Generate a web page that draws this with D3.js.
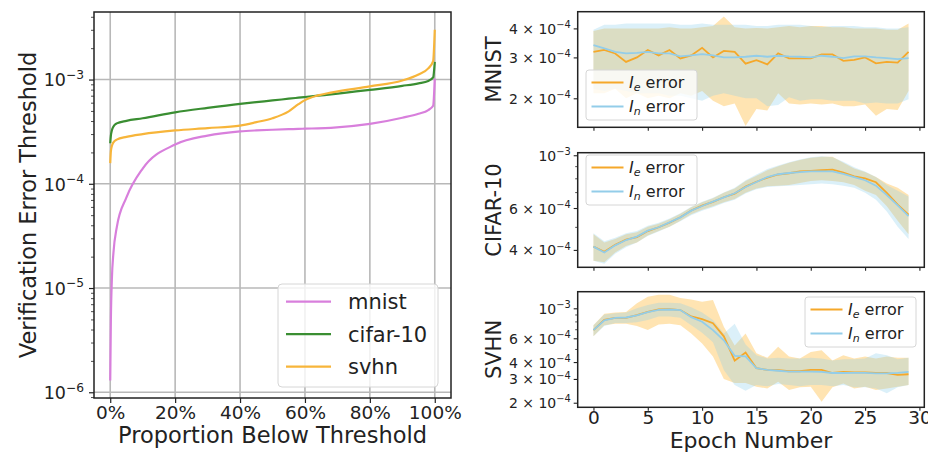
<!DOCTYPE html>
<html>
<head>
<meta charset="utf-8">
<script src="https://cdn.jsdelivr.net/npm/d3@7"></script>
<style>
  body { margin: 0; background: #fff; }
  svg text { font-family: "DejaVu Sans", sans-serif; fill: #222; }
</style>
</head>
<body>
<script>
// ---- left chart: threshold curves ----
const proportion = [0, 0.002, 0.005, 0.01, 0.02, 0.05, 0.1, 0.2, 0.3, 0.4, 0.45, 0.5,
                    0.55, 0.58, 0.6, 0.64, 0.68, 0.8, 0.9, 0.95, 0.98, 0.995, 1.0];
const mnist   = [1.3e-6, 5e-6, 1.2e-5, 2.2e-5, 3.8e-5, 7.4e-5, 1.4e-4, 2.38e-4, 2.9e-4, 3.18e-4, 3.25e-4, 3.3e-4,
                 3.34e-4, 3.36e-4, 3.38e-4, 3.4e-4, 3.44e-4, 3.75e-4, 4.3e-4, 4.7e-4, 5.1e-4, 5.6e-4, 1.02e-3];
const cifar10 = [2.45e-4, 2.9e-4, 3.25e-4, 3.55e-4, 3.8e-4, 4.02e-4, 4.25e-4, 4.85e-4, 5.35e-4, 5.85e-4, 6.08e-4, 6.3e-4,
                 6.55e-4, 6.7e-4, 6.8e-4, 7.0e-4, 7.2e-4, 7.95e-4, 8.7e-4, 9.2e-4, 9.7e-4, 1.05e-3, 1.48e-3];
const svhn    = [1.58e-4, 2.05e-4, 2.3e-4, 2.5e-4, 2.65e-4, 2.82e-4, 3.0e-4, 3.25e-4, 3.42e-4, 3.62e-4, 3.9e-4, 4.25e-4,
                 4.95e-4, 5.8e-4, 6.35e-4, 7.05e-4, 7.5e-4, 8.6e-4, 9.8e-4, 1.12e-3, 1.28e-3, 1.5e-3, 3.0e-3];
const leftNames = ['mnist', 'cifar-10', 'svhn'];
const leftTicksX = [0, 0.2, 0.4, 0.6, 0.8, 1.0];
const leftTicksY = [1e-6, 1e-5, 1e-4, 1e-3];

// ---- right charts: error per epoch ----
const epochs = [0, 1, 2, 3, 4, 5, 6, 7, 8, 9, 10, 11, 12, 13, 14, 15, 16, 17, 18, 19, 20, 21, 22, 23, 24, 25, 26, 27, 28, 29];
const epochTicks = [0, 5, 10, 15, 20, 25, 30];

const mnistIe   = [3.17, 3.23, 3.12, 2.87, 3.0, 3.23, 3.06, 3.23, 2.97, 3.06, 3.3, 3.0, 3.2, 3.17, 2.82,
                   2.92, 2.8, 3.12, 2.97, 2.97, 2.97, 3.09, 3.09, 2.9, 2.93, 3.0, 2.83, 2.87, 2.85, 3.17].map(v => v * 1e-4);
const mnistIeHi = [3.9, 4.0, 4.0, 4.0, 4.0, 4.0, 4.0, 4.05, 4.0, 4.0, 4.05, 4.1, 4.5, 4.05, 4.0,
                   4.02, 4.0, 4.05, 4.1, 4.05, 4.1, 4.1, 4.05, 4.05, 4.0, 4.0, 4.0, 3.95, 3.95, 4.2].map(v => v * 1e-4);
const mnistIeLo = [2.1, 2.1, 2.2, 2.0, 2.1, 2.0, 2.05, 2.0, 2.1, 2.05, 2.15, 1.95, 1.85, 1.9, 1.52,
                   1.8, 1.77, 2.1, 1.9, 1.88, 1.9, 1.88, 1.9, 1.85, 1.85, 1.88, 1.68, 1.8, 1.78, 2.15].map(v => v * 1e-4);
const mnistIn   = [3.39, 3.28, 3.17, 3.12, 3.14, 3.17, 3.12, 3.12, 3.03, 3.06, 3.1, 3.06, 3.0, 3.0, 3.02,
                   3.05, 3.02, 3.05, 3.03, 3.02, 3.0, 3.05, 3.02, 2.98, 3.03, 3.03, 3.0, 2.98, 2.95, 2.98].map(v => v * 1e-4);
const mnistInHi = [3.95, 4.15, 4.15, 4.2, 4.2, 4.2, 4.2, 4.2, 4.15, 4.15, 4.2, 4.15, 4.15, 4.15, 4.15,
                   4.1, 4.1, 4.15, 4.15, 4.15, 4.1, 4.05, 4.1, 4.1, 4.1, 4.05, 4.05, 4.0, 4.0, 4.05].map(v => v * 1e-4);
const mnistInLo = [2.2, 2.15, 2.2, 2.15, 2.1, 2.1, 2.1, 2.05, 2.05, 2.0, 1.95, 2.05, 2.1, 2.05, 2.0,
                   2.0, 1.85, 1.87, 2.02, 1.95, 1.98, 1.98, 1.95, 1.95, 1.95, 1.9, 1.92, 1.9, 1.9, 1.98].map(v => v * 1e-4);

const cifarIe   = [4.13, 3.93, 4.2, 4.42, 4.53, 4.8, 4.98, 5.2, 5.49, 5.86, 6.14, 6.37, 6.66, 6.9, 7.38,
                   7.74, 8.05, 8.3, 8.4, 8.55, 8.6, 8.65, 8.7, 8.45, 8.15, 8.0, 7.7, 6.95, 6.2, 5.62].map(v => v * 1e-4);
const cifarIeHi = [4.65, 4.3, 4.45, 4.65, 4.75, 5.0, 5.15, 5.38, 5.68, 6.05, 6.35, 6.6, 6.95, 7.25, 7.8,
                   8.2, 8.65, 9.0, 9.3, 9.55, 9.75, 9.85, 9.85, 9.3, 8.8, 8.5, 8.1, 7.6, 7.3, 6.8].map(v => v * 1e-4);
const cifarIeLo = [3.6, 3.55, 3.9, 4.15, 4.3, 4.6, 4.8, 5.0, 5.3, 5.65, 5.9, 6.1, 6.35, 6.55, 6.95,
                   7.25, 7.4, 7.45, 7.5, 7.65, 7.8, 7.85, 7.8, 7.7, 7.5, 7.1, 6.8, 6.1, 5.3, 4.66].map(v => v * 1e-4);
const cifarIn   = [4.13, 3.9, 4.18, 4.4, 4.55, 4.82, 4.98, 5.22, 5.48, 5.85, 6.12, 6.38, 6.65, 6.92, 7.35,
                   7.72, 8.1, 8.32, 8.42, 8.5, 8.55, 8.55, 8.55, 8.35, 8.1, 7.85, 7.45, 6.8, 6.15, 5.55].map(v => v * 1e-4);
const cifarInHi = [4.7, 4.35, 4.5, 4.7, 4.8, 5.05, 5.2, 5.42, 5.7, 6.08, 6.38, 6.62, 6.98, 7.3, 7.85,
                   8.3, 8.75, 9.05, 9.35, 9.6, 9.8, 9.9, 9.8, 9.4, 8.9, 8.55, 8.1, 7.5, 7.1, 6.7].map(v => v * 1e-4);
const cifarInLo = [3.6, 3.5, 3.85, 4.1, 4.3, 4.58, 4.78, 5.0, 5.28, 5.6, 5.85, 6.05, 6.3, 6.5, 6.9,
                   7.2, 7.35, 7.4, 7.45, 7.5, 7.55, 7.6, 7.55, 7.45, 7.3, 6.95, 6.5, 5.8, 5.0, 4.45].map(v => v * 1e-4);

const svhnIe    = [6.9, 8.2, 8.5, 8.5, 8.9, 9.4, 9.8, 9.85, 9.7, 8.7, 8.3, 7.75, 6.2, 4.1, 4.7,
                   3.6, 3.5, 3.48, 3.42, 3.42, 3.5, 3.5, 3.32, 3.38, 3.35, 3.35, 3.32, 3.32, 3.22, 3.25].map(v => v * 1e-4);
const svhnIeHi  = [7.5, 9.1, 9.3, 9.4, 10.9, 12.2, 12.6, 12.6, 11.9, 11.6, 11.2, 11.5, 7.3, 5.3, 6.5,
                   4.65, 4.3, 5.2, 4.4, 4.25, 4.75, 4.9, 4.1, 4.5, 4.25, 4.4, 4.25, 4.4, 4.3, 4.3].map(v => v * 1e-4);
const svhnIeLo  = [6.2, 7.5, 7.7, 7.7, 7.4, 6.9, 7.6, 7.7, 7.5, 6.5, 5.5, 4.4, 3.0, 2.8, 2.8,
                   2.63, 2.55, 2.86, 2.48, 2.6, 2.63, 2.03, 2.6, 2.78, 2.55, 2.63, 2.48, 2.55, 2.63, 2.7].map(v => v * 1e-4);
const svhnIn    = [6.9, 8.15, 8.5, 8.55, 8.85, 9.35, 9.75, 9.8, 9.7, 8.6, 7.95, 6.9, 5.8, 4.45, 4.4,
                   3.6, 3.5, 3.45, 3.4, 3.4, 3.4, 3.38, 3.32, 3.32, 3.33, 3.33, 3.3, 3.3, 3.33, 3.38].map(v => v * 1e-4);
const svhnInHi  = [7.5, 9.0, 9.2, 9.3, 10.0, 10.6, 11.0, 11.0, 10.9, 10.2, 9.3, 8.2, 6.5, 7.7, 5.4,
                   4.5, 4.25, 4.3, 4.25, 4.25, 4.3, 4.25, 4.1, 4.2, 4.2, 4.25, 4.65, 4.5, 4.2, 4.3].map(v => v * 1e-4);
const svhnInLo  = [6.2, 7.4, 7.8, 7.8, 7.9, 8.2, 8.7, 8.7, 8.5, 7.5, 6.6, 5.6, 3.5, 2.7, 2.45,
                   2.7, 2.65, 2.75, 2.7, 2.65, 2.7, 2.7, 2.65, 2.7, 2.6, 2.6, 2.55, 2.35, 2.6, 2.7].map(v => v * 1e-4);

const panelNames = ['MNIST', 'CIFAR-10', 'SVHN'];
const mnistTicks = [2e-4, 3e-4, 4e-4];
const cifarTicks = [4e-4, 6e-4, 1e-3];
const svhnTicks  = [2e-4, 3e-4, 4e-4, 6e-4, 1e-3];

const width = 928;
const height = 452;
const MINUS = '\u2212';

const svg = d3.select('body')
    .append('svg')
    .attr('width', width)
    .attr('height', height);

// "10^-n" or "m × 10^-n" as text with a raised exponent
function powText(sel, v, size) {
    const e = Math.floor(Math.log10(v) + 1e-9);
    const m = Math.round(v / Math.pow(10, e));
    sel.text(null);
    sel.append('tspan').text(m === 1 ? '10' : m + ' \u00d7 10');
    sel.append('tspan')
        .attr('dy', -size * 0.42)
        .attr('font-size', size * 0.7)
        .text(MINUS + (-e));
}

function minorTicks(lo, hi, skip) {
    const out = [];
    for (let e = -7; e <= -2; e++) {
        for (let m = 1; m <= 9; m++) {
            const v = m * Math.pow(10, e);
            if (v >= lo && v <= hi && !skip.some(s => Math.abs(s - v) < v * 1e-6)) out.push(v);
        }
    }
    return out;
}

function drawLeft() {
    const x0 = 94, x1 = 451, y0 = 12, y1 = 398;
    const x = d3.scaleLinear().domain([-0.05, 1.05]).range([x0, x1]);
    const y = d3.scaleLog().domain([Math.pow(10, -6.055), Math.pow(10, -2.352)]).range([y1, y0]);
    const g = svg.append('g');

    // grid
    g.selectAll('.gx').data(leftTicksX).join('line')
        .attr('x1', d => x(d)).attr('x2', d => x(d))
        .attr('y1', y0).attr('y2', y1)
        .style('stroke', '#b8b8b8').style('stroke-width', 1.6);
    g.selectAll('.gy').data(leftTicksY).join('line')
        .attr('x1', x0).attr('x2', x1)
        .attr('y1', d => y(d)).attr('y2', d => y(d))
        .style('stroke', '#b8b8b8').style('stroke-width', 1.6);

    // curves
    const line = d3.line()
        .x((d, i) => x(proportion[i]))
        .y(d => y(d))
        .curve(d3.curveMonotoneX);
    const series = [mnist, cifar10, svhn];
    const colors = ['#d87fdc', '#3a8e32', '#f7b53a'];
    series.forEach((s, k) => {
        g.append('path')
            .attr('d', line(s))
            .style('fill', 'none')
            .style('stroke', colors[k])
            .style('stroke-width', 2.2);
    });

    // frame
    g.append('rect')
        .attr('x', x0).attr('y', y0).attr('width', x1 - x0).attr('height', y1 - y0)
        .style('fill', 'none').style('stroke', '#222').style('stroke-width', 1.5);

    // y axis
    const ay = g.append('g')
        .attr('transform', `translate(${x0},0)`)
        .call(d3.axisLeft(y).tickValues(leftTicksY).tickSize(5).tickPadding(5).tickFormat(() => ''));
    ay.select('.domain').remove();
    ay.selectAll('.tick line').style('stroke', '#222').style('stroke-width', 1.2);
    ay.selectAll('.tick text')
        .attr('font-size', 17.5).attr('font-family', null).attr('dy', '0.36em')
        .each(function(d) { powText(d3.select(this), d, 17.5); });
    g.append('g')
        .attr('transform', `translate(${x0},0)`)
        .call(d3.axisLeft(y).tickValues(minorTicks(y.domain()[0], y.domain()[1], leftTicksY))
            .tickSize(3).tickFormat(() => ''))
        .call(a => a.select('.domain').remove())
        .selectAll('.tick line').style('stroke', '#222').style('stroke-width', 0.8);

    // x axis
    const ax = g.append('g')
        .attr('transform', `translate(0,${y1})`)
        .call(d3.axisBottom(x).tickValues(leftTicksX).tickSize(5).tickFormat(d3.format('.0%')));
    ax.select('.domain').remove();
    ax.selectAll('.tick line').style('stroke', '#222').style('stroke-width', 1.2);
    ax.selectAll('.tick text')
        .attr('font-size', 18.5).attr('font-family', null)
        .attr('y', 21).attr('dy', 0);

    // labels
    g.append('text')
        .attr('x', (x0 + x1) / 2).attr('y', 442.5)
        .attr('text-anchor', 'middle').attr('font-size', 22.5)
        .text('Proportion Below Threshold');
    g.append('text')
        .attr('transform', `translate(36,${(y0 + y1) / 2}) rotate(-90)`)
        .attr('text-anchor', 'middle').attr('font-size', 22.5)
        .text('Verification Error Threshold');

    // legend
    const lg = g.append('g').attr('transform', 'translate(278,284)');
    lg.append('rect')
        .attr('width', 160).attr('height', 103).attr('rx', 4)
        .style('fill', '#fff').style('fill-opacity', 0.8)
        .style('stroke', '#d6d6d6').style('stroke-width', 1);
    leftNames.forEach((name, k) => {
        const yy = 17.7 + k * 32.5;
        lg.append('line')
            .attr('x1', 8).attr('x2', 53).attr('y1', yy).attr('y2', yy)
            .style('stroke', colors[k]).style('stroke-width', 2.2);
        lg.append('text')
            .attr('x', 70).attr('y', yy + 7.5)
            .attr('font-size', 21)
            .text(name);
    });
}

function legendRight(g, lx, ly, ieColor, inColor) {
    const lg = g.append('g').attr('transform', `translate(${lx},${ly})`);
    lg.append('rect')
        .attr('width', 111).attr('height', 50).attr('rx', 3)
        .style('fill', '#fff').style('fill-opacity', 0.8)
        .style('stroke', '#d6d6d6').style('stroke-width', 1);
    [['e', ieColor], ['n', inColor]].forEach((item, k) => {
        const yy = 12.5 + k * 24;
        lg.append('line')
            .attr('x1', 5.5).attr('x2', 37.5).attr('y1', yy).attr('y2', yy)
            .style('stroke', item[1]).style('stroke-width', 2);
        const t = lg.append('text')
            .attr('x', 43).attr('y', yy + 5.5)
            .attr('font-size', 16);
        t.append('tspan').attr('font-style', 'italic').text('I');
        t.append('tspan').attr('font-style', 'italic').attr('font-size', 11).attr('dy', 3).text(item[0]);
        t.append('tspan').attr('dy', -3).text(' error');
    });
}

function drawPanel(k, top, bottom, lo, hi, ticks, ie, inn, lx, ly, showX) {
    const x0 = 577.7, x1 = 924.3;
    const x = d3.scaleLinear().domain([-1.45, 30.45]).range([x0, x1]);
    const y = d3.scaleLog().domain([lo, hi]).range([bottom, top]);
    const g = svg.append('g');
    const ieColor = '#f5a82a', inColor = '#93cde9';

    const area = (loA, hiA) => d3.area()
        .x((d, i) => x(epochs[i]))
        .y0((d, i) => y(loA[i]))
        .y1((d, i) => y(hiA[i]))(loA);
    const line = d3.line().x((d, i) => x(epochs[i])).y(d => y(d));

    g.append('path').attr('d', area(ie[1], ie[2]))
        .style('fill', '#ffa500').style('fill-opacity', 0.3);
    g.append('path').attr('d', area(inn[1], inn[2]))
        .style('fill', '#87ceeb').style('fill-opacity', 0.3);
    g.append('path').attr('d', line(ie[0]))
        .style('fill', 'none').style('stroke', ieColor).style('stroke-width', 1.8);
    g.append('path').attr('d', line(inn[0]))
        .style('fill', 'none').style('stroke', inColor).style('stroke-width', 1.8);

    g.append('rect')
        .attr('x', x0).attr('y', top).attr('width', x1 - x0).attr('height', bottom - top)
        .style('fill', 'none').style('stroke', '#222').style('stroke-width', 1.5);

    // y axis
    const ay = g.append('g')
        .attr('transform', `translate(${x0},0)`)
        .call(d3.axisLeft(y).tickValues(ticks).tickSize(4).tickPadding(3).tickFormat(() => ''));
    ay.select('.domain').remove();
    ay.selectAll('.tick line').style('stroke', '#222').style('stroke-width', 1.1);
    ay.selectAll('.tick text')
        .attr('font-size', 14).attr('font-family', null).attr('dy', '0.36em')
        .each(function(d) { powText(d3.select(this), d, 14); });
    g.append('g')
        .attr('transform', `translate(${x0},0)`)
        .call(d3.axisLeft(y).tickValues(minorTicks(lo, hi, ticks)).tickSize(2.5).tickFormat(() => ''))
        .call(a => a.select('.domain').remove())
        .selectAll('.tick line').style('stroke', '#222').style('stroke-width', 0.8);

    // x axis
    const ax = g.append('g')
        .attr('transform', `translate(0,${bottom})`)
        .call(d3.axisBottom(x).tickValues(epochTicks).tickSize(3.5).tickFormat(showX ? d3.format('d') : () => ''));
    ax.select('.domain').remove();
    ax.selectAll('.tick line').style('stroke', '#222').style('stroke-width', 1.1);
    ax.selectAll('.tick text')
        .attr('font-size', 18.5).attr('font-family', null)
        .attr('y', 16.7).attr('dy', 0);

    g.append('text')
        .attr('transform', `translate(501,${(top + bottom) / 2}) rotate(-90)`)
        .attr('text-anchor', 'middle').attr('font-size', 21)
        .text(panelNames[k]);

    legendRight(g, lx, ly, ieColor, inColor);

    if (showX) {
        g.append('text')
            .attr('x', (x0 + x1) / 2).attr('y', 447.5)
            .attr('text-anchor', 'middle').attr('font-size', 22)
            .text('Epoch Number');
    }
}

drawLeft();
drawPanel(0, 11.7, 127.3, 1.5e-4, 4.72e-4, mnistTicks,
          [mnistIe, mnistIeLo, mnistIeHi], [mnistIn, mnistInLo, mnistInHi], 586, 70, false);
drawPanel(1, 152.7, 267.3, 3.38e-4, 1.025e-3, cifarTicks,
          [cifarIe, cifarIeLo, cifarIeHi], [cifarIn, cifarInLo, cifarInHi], 586, 155, false);
drawPanel(2, 291.7, 407.3, 1.85e-4, 1.327e-3, svhnTicks,
          [svhnIe, svhnIeLo, svhnIeHi], [svhnIn, svhnInLo, svhnInHi], 805, 297, true);
</script>
</body>
</html>
